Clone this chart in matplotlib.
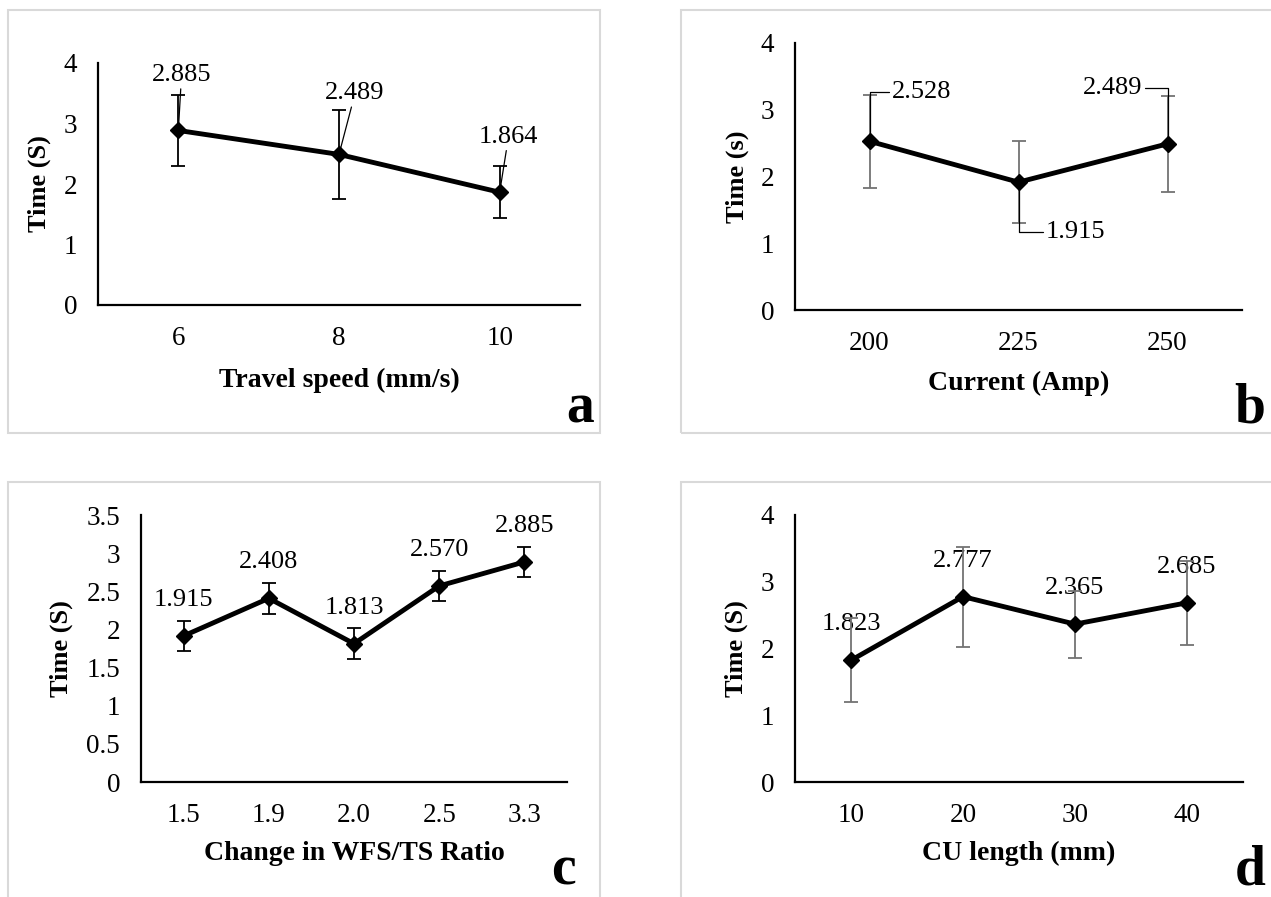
import numpy as np
import matplotlib
matplotlib.use('Agg')
import matplotlib.pyplot as plt
from matplotlib.patches import Rectangle

plt.rcParams['font.family'] = ['Liberation Serif', 'DejaVu Serif']

# ---- data ----
speed_cats = ['6', '8', '10']
speed_time = [2.885, 2.489, 1.864]
speed_err = [0.58, 0.74, 0.43]

current_cats = ['200', '225', '250']
current_time = [2.528, 1.915, 2.489]
current_err = [0.70, 0.61, 0.72]

ratio_cats = ['1.5', '1.9', '2.0', '2.5', '3.3']
ratio_time = [1.915, 2.408, 1.813, 2.570, 2.885]
ratio_err = [0.20, 0.20, 0.20, 0.20, 0.20]

cu_cats = ['10', '20', '30', '40']
cu_time = [1.823, 2.777, 2.365, 2.685]
cu_err = [0.63, 0.75, 0.50, 0.63]

W, H = 1271, 897
fig = plt.figure(figsize=(W / 100, H / 100), dpi=100)


def px_axes(left, top, right, bottom):
    return fig.add_axes([left / W, 1 - bottom / H, (right - left) / W, (bottom - top) / H])


def frame(x0, y0, x1, y1):
    fig.add_artist(Rectangle((x0 / W, 1 - y1 / H), (x1 - x0) / W, (y1 - y0) / H,
                             transform=fig.transFigure, fill=False,
                             ec='#d9d9d9', lw=1.5, clip_on=False))


def draw_panel(ax, cats, vals, errs, ymax, ystep, xlabel, ylabel, ecolor,
               xlab_y, ylab_x):
    x = np.arange(len(cats))
    ax.errorbar(x, vals, yerr=errs, fmt='none', ecolor=ecolor, elinewidth=1.3,
                capsize=5, capthick=1.3, zorder=2)
    ax.plot(x, vals, color='black', lw=3.5, marker='D', ms=8, zorder=3)
    ax.set_xlim(-0.5, len(cats) - 0.5)
    ax.set_ylim(0, ymax)
    ax.set_xticks(x)
    ax.set_xticklabels(cats)
    ax.set_yticks(np.arange(0, ymax + 0.01, ystep))
    ax.yaxis.set_major_formatter(plt.FuncFormatter(lambda v, p: f'{v:g}'))
    for s in ['top', 'right']:
        ax.spines[s].set_visible(False)
    for s in ['left', 'bottom']:
        ax.spines[s].set_linewidth(1.6)
    ax.tick_params(axis='both', length=0, labelsize=19.5)
    ax.tick_params(axis='y', pad=15)
    ax.tick_params(axis='x', pad=15)
    ax.set_xlabel(xlabel, fontsize=20, fontweight='bold', va='center')
    ax.xaxis.set_label_coords(0.5, xlab_y)
    ax.set_ylabel(ylabel, fontsize=19, fontweight='bold', va='center')
    ax.yaxis.set_label_coords(ylab_x, 0.5)
    return x


# panel frames
frame(8, 10, 600, 433)
frame(681, 10, 1290, 433)
frame(8, 482, 600, 910)
frame(681, 482, 1290, 910)

# ---- a: travel speed ----
ax_a = px_axes(98, 63, 580, 305)
xa = draw_panel(ax_a, speed_cats, speed_time, speed_err, 4, 1,
                'Travel speed (mm/s)', 'Time (S)', 'black', -0.312, -0.122)
a_text_pos = [(0.02, 3.80), (1.10, 3.50), (2.055, 2.78)]
for xi, v, (tx, ty) in zip(xa, speed_time, a_text_pos):
    ax_a.annotate(f'{v:.3f}', xy=(xi, v), xytext=(tx, ty), ha='center', va='center',
                  fontsize=19,
                  arrowprops=dict(arrowstyle='-', lw=0.9, color='black',
                                  shrinkA=0, shrinkB=0))

# ---- b: current ----
ax_b = px_axes(795, 43, 1242, 310)
xb = draw_panel(ax_b, current_cats, current_time, current_err, 4, 1,
                'Current (Amp)', 'Time (s)', '#737373', -0.276, -0.128)
b_text_pos = [(0.15, 3.26, 'left'), (1.18, 1.17, 'left'), (1.83, 3.32, 'right')]
for xi, v, (tx, ty, ha) in zip(xb, current_time, b_text_pos):
    ax_b.annotate(f'{v:.3f}', xy=(xi, v), xytext=(tx, ty), ha=ha, va='center',
                  fontsize=19,
                  arrowprops=dict(arrowstyle='-', lw=0.9, color='black',
                                  shrinkA=0, shrinkB=0,
                                  connectionstyle='angle,angleA=0,angleB=90,rad=0'))

# ---- c: WFS/TS ratio ----
ax_c = px_axes(141, 515, 567, 782)
xc = draw_panel(ax_c, ratio_cats, ratio_time, ratio_err, 3.5, 0.5,
                'Change in WFS/TS Ratio', 'Time (S)', 'black', -0.268, -0.188)
for xi, v in zip(xc, ratio_time):
    ax_c.annotate(f'{v:.3f}', xy=(xi, v), xytext=(0, 26), textcoords='offset points',
                  ha='center', va='center', fontsize=19)

# ---- d: CU length ----
ax_d = px_axes(795, 515, 1243, 782)
xd = draw_panel(ax_d, cu_cats, cu_time, cu_err, 4, 1,
                'CU length (mm)', 'Time (S)', '#737373', -0.268, -0.130)
for xi, v in zip(xd, cu_time):
    ax_d.annotate(f'{v:.3f}', xy=(xi, v), xytext=(0, 26), textcoords='offset points',
                  ha='center', va='center', fontsize=19, zorder=1)

# panel letters
for letter, px, py in [('a', 580, 422), ('b', 1250, 422), ('c', 563, 884), ('d', 1250, 884)]:
    fig.text(px / W, 1 - py / H, letter, fontsize=40, fontweight='bold',
             ha='center', va='baseline')

fig.savefig('out.png', dpi=100)
